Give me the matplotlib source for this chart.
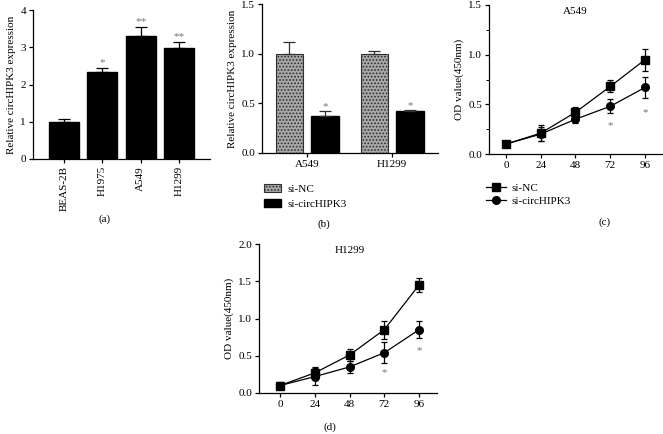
import matplotlib
matplotlib.use("Agg")
import matplotlib.pyplot as plt
from matplotlib.ticker import MultipleLocator, FormatStrFormatter

plt.rcParams['font.family'] = ['Liberation Serif', 'DejaVu Serif']
plt.rcParams['font.size'] = 8
plt.rcParams['axes.linewidth'] = 0.9
plt.rcParams['hatch.color'] = '#404040'
plt.rcParams['hatch.linewidth'] = 0.8

# (a) circHIPK3 expression in cell lines
cells = ['BEAS-2B', 'H1975', 'A549', 'H1299']
expr = [1.0, 2.33, 3.3, 2.97]
expr_err = [0.08, 0.12, 0.25, 0.18]
expr_sig = ['', '*', '**', '**']

# (b) knockdown
groups = ['A549', 'H1299']
nc_vals = [1.0, 1.0]
nc_err = [0.12, 0.03]
kd_vals = [0.37, 0.42]
kd_err = [0.05, 0.01]

# (c), (d) CCK-8
hours = [0, 24, 48, 72, 96]
a549_nc = [0.10, 0.21, 0.42, 0.68, 0.95]
a549_nc_err = [0.02, 0.08, 0.05, 0.06, 0.11]
a549_kd = [0.10, 0.20, 0.35, 0.48, 0.67]
a549_kd_err = [0.02, 0.07, 0.04, 0.07, 0.11]
a549_star = [None, None, None, 0.29, 0.42]
h1299_nc = [0.10, 0.27, 0.51, 0.85, 1.45]
h1299_nc_err = [0.05, 0.08, 0.08, 0.12, 0.09]
h1299_kd = [0.10, 0.22, 0.35, 0.54, 0.85]
h1299_kd_err = [0.04, 0.11, 0.08, 0.14, 0.11]
h1299_star = [None, None, None, 0.28, 0.57]

W, H = 663, 434
fig = plt.figure(figsize=(W / 100, H / 100), dpi=100)


def axes_px(left, right, top, bottom):
    return fig.add_axes([left / W, 1 - bottom / H, (right - left) / W, (bottom - top) / H])


def style(ax):
    ax.spines['top'].set_visible(False)
    ax.spines['right'].set_visible(False)
    ax.tick_params(direction='out', length=3, width=0.9, pad=2)


# panel a
ax = axes_px(33, 210, 10, 159)
x = list(range(len(cells)))
ax.bar(x, expr, width=0.78, color='black', edgecolor='black')
ax.errorbar(x, expr, yerr=[[0] * 4, expr_err], fmt='none', ecolor='black',
            elinewidth=0.9, capsize=4.3, capthick=0.9)
for i, s in enumerate(expr_sig):
    if s:
        ax.text(i, expr[i] + expr_err[i] + 0.02, s, ha='center', va='bottom',
                color='#777777')
ax.set_xlim(-0.81, 3.81)
ax.set_ylim(0, 4)
ax.set_yticks([0, 1, 2, 3, 4])
ax.set_xticks(x)
ax.set_xticklabels(cells, rotation=90)
ax.set_ylabel('Relative circHIPK3 expression', labelpad=3)
style(ax)
fig.text(105 / W, 1 - 219 / H, '(a)', ha='center', va='center')

# panel b
ax = axes_px(262, 438, 4, 153)
gx = [0, 1]
off = 0.21
bw = 0.32
ax.bar([g - off for g in gx], nc_vals, width=bw, color='#a8a8a8', edgecolor='#303030',
       hatch='.....', linewidth=0.8, label='si-NC')
ax.bar([g + off for g in gx], kd_vals, width=bw, color='black', edgecolor='black',
       label='si-circHIPK3')
ax.errorbar([g - off for g in gx], nc_vals, yerr=[[0, 0], nc_err], fmt='none',
            ecolor='#303030', elinewidth=0.9, capsize=4, capthick=0.9)
ax.errorbar([g + off for g in gx], kd_vals, yerr=[[0, 0], kd_err], fmt='none',
            ecolor='#303030', elinewidth=0.9, capsize=4, capthick=0.9)
for g in gx:
    ax.text(g + off, kd_vals[g] + kd_err[g] + 0.005, '*', ha='center', va='bottom',
            color='#777777')
ax.set_xlim(-0.53, 1.54)
ax.set_ylim(0, 1.5)
ax.set_yticks([0, 0.5, 1.0, 1.5])
ax.set_yticklabels(['0.0', '0.5', '1.0', '1.5'])
ax.set_xticks(gx)
ax.set_xticklabels(groups)
ax.set_ylabel('Relative circHIPK3 expression', labelpad=3)
style(ax)
ax.legend(loc='upper left', bbox_to_anchor=(264 / W, 1 - 184 / H), bbox_transform=fig.transFigure,
          frameon=False, handlelength=1.5, handleheight=0.8,
          handletextpad=0.6, labelspacing=0.4, borderpad=0, borderaxespad=0)
fig.text(324 / W, 1 - 224 / H, '(b)', ha='center', va='center')


def cck(ax, nc, nce, kd, kde, stars, ymax, title):
    ax.errorbar(hours, nc, yerr=nce, fmt='none', ecolor='black',
                capsize=2.5, elinewidth=0.9, capthick=0.9)
    ax.errorbar(hours, kd, yerr=kde, fmt='none', ecolor='black',
                capsize=2.5, elinewidth=0.9, capthick=0.9)
    ax.plot(hours, nc, color='black', marker='s', markersize=5.5, lw=0.9, label='si-NC')
    ax.plot(hours, kd, color='black', marker='o', markersize=5.5, lw=0.9, label='si-circHIPK3')
    for h, s in zip(hours, stars):
        if s is not None:
            ax.text(h, s, '*', ha='center', va='center', color='#777777')
    ax.set_ylim(0, ymax)
    ax.set_xticks(hours)
    ax.yaxis.set_major_locator(MultipleLocator(0.5))
    ax.yaxis.set_major_formatter(FormatStrFormatter('%.1f'))
    ax.set_ylabel('OD value(450nm)', labelpad=3)
    ax.text(48, ymax * 0.985, title, ha='center', va='top')
    style(ax)


# panel c
ax = axes_px(489, 663, 5, 154)
cck(ax, a549_nc, a549_nc_err, a549_kd, a549_kd_err, a549_star, 1.5, 'A549')
ax.set_xlim(-11.7, 108.4)
ax.yaxis.set_minor_locator(MultipleLocator(0.25))
ax.tick_params(which='minor', length=2, width=0.7)
ax.legend(loc='upper left', bbox_to_anchor=(486 / W, 1 - 183 / H), bbox_transform=fig.transFigure,
          frameon=False, handlelength=1.8, handletextpad=0.5,
          labelspacing=0.3, borderpad=0, borderaxespad=0)
fig.text(605 / W, 1 - 222 / H, '(c)', ha='center', va='center')

# panel d
ax = axes_px(259, 437, 244, 393)
cck(ax, h1299_nc, h1299_nc_err, h1299_kd, h1299_kd_err, h1299_star, 2.0, 'H1299')
ax.set_xlim(-14.5, 108.4)
fig.text(330 / W, 1 - 427 / H, '(d)', ha='center', va='center')

fig.savefig('out.png', dpi=100)
